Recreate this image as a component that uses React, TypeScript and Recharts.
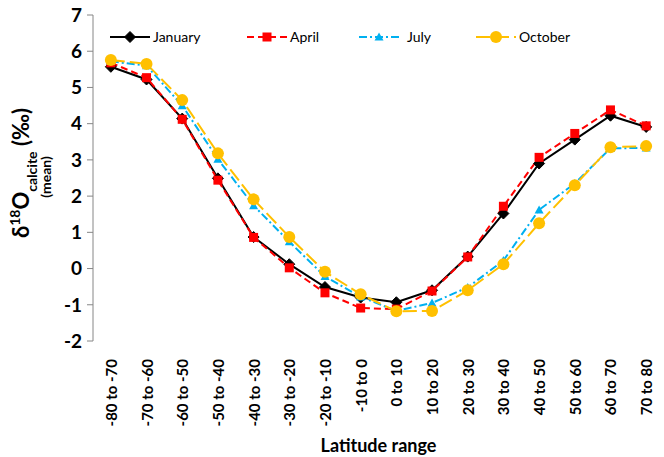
import { LineChart, Line, XAxis, YAxis } from "recharts";

const latitudes = [
  "-80 to -70", "-70 to -60", "-60 to -50", "-50 to -40", "-40 to -30", "-30 to -20",
  "-20 to -10", "-10 to 0", "0 to 10", "10 to 20", "20 to 30", "30 to 40",
  "40 to 50", "50 to 60", "60 to 70", "70 to 80",
];
const january = [5.57, 5.22, 4.14, 2.49, 0.87, 0.12, -0.51, -0.8, -0.93, -0.6, 0.33, 1.52, 2.9, 3.56, 4.22, 3.91];
const april = [5.68, 5.27, 4.12, 2.44, 0.86, 0.02, -0.67, -1.09, -1.12, -0.62, 0.32, 1.72, 3.07, 3.73, 4.38, 3.94];
const july = [5.72, 5.6, 4.5, 3.02, 1.74, 0.74, -0.22, -0.78, -1.17, -0.95, -0.52, 0.22, 1.62, 2.35, 3.32, 3.33];
const october = [5.76, 5.65, 4.65, 3.18, 1.91, 0.87, -0.09, -0.71, -1.18, -1.17, -0.6, 0.12, 1.25, 2.3, 3.35, 3.38];
const yTicks = [-2, -1, 0, 1, 2, 3, 4, 5, 6, 7];

const data = latitudes.map((label, i) => ({
  i,
  label,
  january: january[i],
  april: april[i],
  july: july[i],
  october: october[i],
}));

const centerTicks = latitudes.map((_, i) => i);
const edgeTicks = [...latitudes.map((_, i) => i - 0.5), latitudes.length - 0.5];

const FONT = "Lato, 'Open Sans', sans-serif";
const AXIS_GREY = "#868686";

type Shape = "diamond" | "square" | "triangle" | "circle";

function marker(shape: Shape, color: string, cx: number, cy: number, key?: any) {
  if (shape === "diamond") {
    const r = 5.5;
    return <polygon key={key} points={`${cx},${cy - r} ${cx + r},${cy} ${cx},${cy + r} ${cx - r},${cy}`} fill={color} stroke={color} strokeWidth={1} />;
  }
  if (shape === "square") {
    const r = 4.5;
    return <rect key={key} x={cx - r} y={cy - r} width={2 * r} height={2 * r} fill={color} />;
  }
  if (shape === "triangle") {
    const r = 4.5;
    return <polygon key={key} points={`${cx},${cy - r} ${cx + r},${cy + r * 0.8} ${cx - r},${cy + r * 0.8}`} fill={color} />;
  }
  return <circle key={key} cx={cx} cy={cy} r={6} fill={color} />;
}

const dotFor = (shape: Shape, color: string) => (props: any) => {
  const { cx, cy, index } = props;
  if (cx == null || cy == null) return <g key={index} />;
  return marker(shape, color, cx, cy, index);
};

const series = [
  { key: "january", name: "January", color: "#000000", dash: undefined, shape: "diamond" as Shape, lx: 110, tx: 153 },
  { key: "april", name: "April", color: "#FF0000", dash: "7 4", shape: "square" as Shape, lx: 247, tx: 290 },
  { key: "july", name: "July", color: "#00B0F0", dash: "8 3 2 3", shape: "triangle" as Shape, lx: 359, tx: 407 },
  { key: "october", name: "October", color: "#FFC000", dash: "14 5", shape: "circle" as Shape, lx: 476, tx: 519 },
];

function LatTick(props: any) {
  const { x, y, payload } = props;
  const ty = y + 10;
  return (
    <text
      x={x}
      y={ty}
      transform={`rotate(-90 ${x} ${ty})`}
      textAnchor="end"
      dominantBaseline="central"
      fontFamily={FONT}
      fontWeight="bold"
      fontSize={15}
      fill="#000"
    >
      {latitudes[payload.value]}
    </text>
  );
}

function YTitle() {
  return (
    <g fontFamily={FONT} fontWeight="bold" fill="#000">
      <text transform="rotate(-90)" x={-173} y={29} textAnchor="middle">
        <tspan fontSize={22}>δ</tspan>
        <tspan fontSize={14} dy={-9}>18</tspan>
        <tspan fontSize={22} dy={9}>O</tspan>
        <tspan fontSize={14} dy={8}>calcite</tspan>
        <tspan fontSize={22} dy={-8}> (‰)</tspan>
      </text>
      <text transform="rotate(-90)" x={-177} y={51} textAnchor="middle" fontSize={14}>
        (mean)
      </text>
    </g>
  );
}

function LegendOverlay() {
  return (
    <svg width={664} height={60} style={{ position: "absolute", left: 0, top: 0, pointerEvents: "none" }}>
      {series.map((s) => (
        <g key={s.key}>
          <line x1={s.lx} x2={s.lx + 40} y1={37} y2={37} stroke={s.color} strokeWidth={2} strokeDasharray={s.dash} />
          {marker(s.shape, s.color, s.lx + 20, 37)}
          <text x={s.tx} y={42} fontFamily={FONT} fontSize={14} fill="#000">
            {s.name}
          </text>
        </g>
      ))}
    </svg>
  );
}

export default function App() {
  return (
    <div style={{ position: "absolute", left: 0, top: 0, width: 664, height: 457, background: "#fff" }}>
      <LineChart width={664} height={457} data={data} margin={{ top: 15, right: 0, left: 0, bottom: 0 }}>
        <XAxis
          xAxisId="edges"
          type="number"
          dataKey="i"
          domain={[-0.5, latitudes.length - 0.5]}
          ticks={edgeTicks}
          tick={false}
          tickSize={5}
          height={0}
          stroke={AXIS_GREY}
          allowDataOverflow
        />
        <XAxis
          xAxisId="cat"
          type="number"
          dataKey="i"
          domain={[-0.5, latitudes.length - 0.5]}
          ticks={centerTicks}
          interval={0}
          tick={<LatTick />}
          tickLine={false}
          axisLine={false}
          height={116}
          allowDataOverflow
          label={{
            value: "Latitude range",
            position: "insideBottom",
            offset: 5,
            style: { fontFamily: FONT, fontWeight: "bold", fontSize: 18, fill: "#000" },
          }}
        />
        <YAxis
          type="number"
          domain={[-2, 7]}
          ticks={yTicks}
          interval={0}
          width={93}
          tickSize={6}
          tickMargin={5}
          stroke={AXIS_GREY}
          tick={{ fontFamily: FONT, fontWeight: "bold", fontSize: 19, fill: "#000" }}
          label={<YTitle />}
        />
        {series.map((s) => (
          <Line
            key={s.key}
            xAxisId="cat"
            type="linear"
            dataKey={s.key}
            name={s.name}
            stroke={s.color}
            strokeWidth={2}
            strokeDasharray={s.dash}
            dot={dotFor(s.shape, s.color)}
            activeDot={false}
            isAnimationActive={false}
          />
        ))}
      </LineChart>
      <LegendOverlay />
    </div>
  );
}
